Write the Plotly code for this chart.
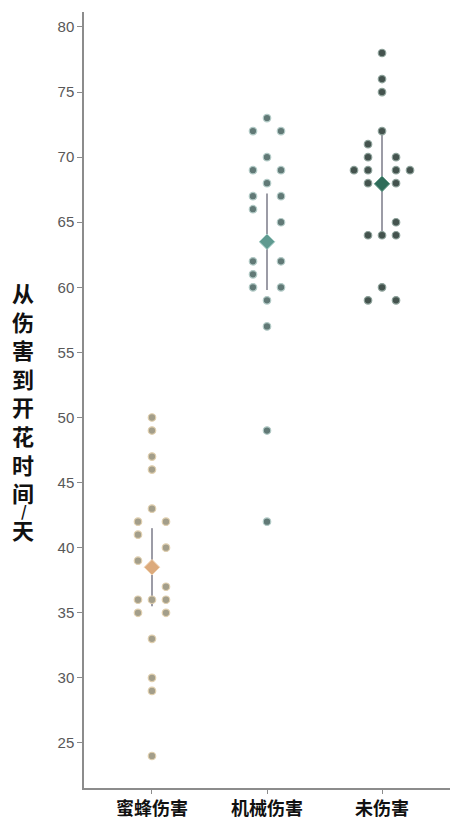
import numpy as np
import plotly.graph_objects as go
from collections import Counter

# Days from damage to flowering, per treatment group
groups = ["蜜蜂伤害", "机械伤害", "未伤害"]
bee_damage = [50, 49, 47, 46, 43, 42, 42, 41, 40, 39, 37, 36, 36, 36, 35, 35, 33, 30, 29, 24]
mech_damage = [73, 72, 72, 70, 69, 69, 68, 67, 67, 66, 65, 62, 62, 61, 60, 60, 59, 57, 49, 42]
undamaged = [78, 76, 75, 72, 71, 70, 70, 69, 69, 69, 69, 68, 68, 65, 64, 64, 64, 60, 59, 59]

# 95% confidence interval ends around each group mean
ci_low = [35.5, 59.8, 63.9]
ci_high = [41.5, 67.2, 72.1]

y_ticks = [25, 30, 35, 40, 45, 50, 55, 60, 65, 70, 75, 80]
y_title_main = "从伤害到开花时间"
y_title_sep = "/"
y_title_unit = "天"

series = [bee_damage, mech_damage, undamaged]
dot_fill = ["#a39e8a", "#617976", "#44534e"]
dot_edge = ["#e0cfae", "#b3cbc7", "#8ea29b"]
mean_fill = ["#dcaa7c", "#5f9a90", "#2f6d5a"]
mean_edge = ["#f2d6b6", "#a9d0c9", "#72a393"]

SLOT = 14 / 115  # horizontal step between swarm columns, in category units


def swarm_slots(values, lo, hi, clear=0.3):
    """Column index for every value: ties spread sideways, and single points
    that fall inside the interval bar step off the centre line."""
    counts = Counter(values)
    left = right = 0
    slot_of = {}
    for v in sorted(counts, reverse=True):
        k = counts[v]
        inside = lo + clear < v < hi - clear
        pairs = [s for j in range(1, k // 2 + 1) for s in (-j, j)]
        if k == 1 and inside:
            cols = [-1] if left <= right else [1]
        elif k % 2 == 1:
            cols = sorted(pairs + [0])
        else:
            cols = sorted(pairs)
        left += sum(c < 0 for c in cols)
        right += sum(c > 0 for c in cols)
        slot_of[v] = cols
    out = []
    used = Counter()
    for v in values:
        out.append(slot_of[v][used[v]])
        used[v] += 1
    return out


fig = go.Figure()

# interval bars
for i in range(len(series)):
    fig.add_trace(go.Scatter(
        x=[i, i], y=[ci_low[i], ci_high[i]], mode="lines",
        line=dict(color="#9c9ca6", width=2), showlegend=False, hoverinfo="skip"))

# individual observations
for i, vals in enumerate(series):
    cols = swarm_slots(vals, ci_low[i], ci_high[i])
    xs = [i + c * SLOT for c in cols]
    fig.add_trace(go.Scatter(
        x=xs, y=vals, mode="markers",
        marker=dict(size=7.5, color=dot_fill[i], line=dict(color=dot_edge[i], width=1.2)),
        showlegend=False, name=groups[i]))

# group means
means = [float(np.mean(v)) for v in series]
for i, m in enumerate(means):
    fig.add_trace(go.Scatter(
        x=[i], y=[m], mode="markers",
        marker=dict(symbol="diamond", size=12, color=mean_fill[i],
                    line=dict(color=mean_edge[i], width=1)),
        showlegend=False, name=groups[i] + " 均值"))

W, H = 451, 821
ML, MR, MT, MB = 84, 1, 12, 33
plot_w = W - ML - MR
plot_h = H - MT - MB

fig.update_layout(
    width=W, height=H, autosize=False,
    margin=dict(l=ML, r=MR, t=MT, b=MB, pad=0),
    paper_bgcolor="white", plot_bgcolor="white",
    xaxis=dict(
        range=[-0.591, 2.591], tickmode="array", tickvals=[0, 1, 2], ticktext=groups,
        showline=True, linecolor="#8c8c8c", linewidth=1.5, mirror=False,
        ticks="outside", ticklen=4, tickcolor="#8c8c8c", tickwidth=1,
        showgrid=False, zeroline=False,
        tickfont=dict(family="Noto Sans CJK SC", size=18, color="#111111", weight="bold"),
    ),
    yaxis=dict(
        range=[21.54, 81.15], tickmode="array", tickvals=y_ticks,
        showline=True, linecolor="#8c8c8c", linewidth=1.5,
        ticks="outside", ticklen=5, tickcolor="#8c8c8c", tickwidth=1,
        showgrid=False, zeroline=False,
        tickfont=dict(family="Liberation Sans, Arial", size=15, color="#585858"),
    ),
)


def px_to_paper(px, py):
    return (px - ML) / plot_w, (H - MB - py) / plot_h


# stacked, upright y-axis title: one character per line
title_font = dict(family="Noto Sans CJK SC", size=22, color="#111111", weight="bold")
line_h = 22 * 1.3
n = len(y_title_main)
xp, yp = px_to_paper(23, 292 + (n - 1) * line_h / 2)
fig.add_annotation(
    x=xp, y=yp, xref="paper", yref="paper", text="<br>".join(y_title_main),
    showarrow=False, xanchor="center", yanchor="middle", align="center",
    font=title_font)
xp, yp = px_to_paper(24, 511)
fig.add_annotation(
    x=xp, y=yp, xref="paper", yref="paper", text=y_title_sep, showarrow=False,
    xanchor="center", yanchor="middle",
    font=dict(family="Noto Sans CJK SC", size=15, color="#111111", weight="bold"))
xp, yp = px_to_paper(23, 529)
fig.add_annotation(
    x=xp, y=yp, xref="paper", yref="paper", text=y_title_unit, showarrow=False,
    xanchor="center", yanchor="middle", font=title_font)

fig.write_html("out.html")
